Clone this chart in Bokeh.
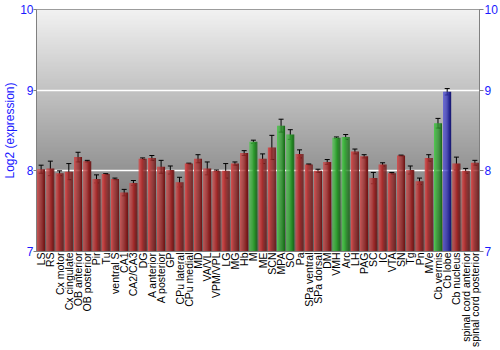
import numpy as np
from bokeh.plotting import figure
from bokeh.models import (ColumnDataSource, LinearAxis, FixedTicker, Whisker,
                          TeeHead, Range1d)
from bokeh.transform import dodge
from bokeh.embed import file_html
from bokeh.resources import INLINE

regions = ["LS", "RS", "Cx motor", "Cx cingulate", "OB anterior", "OB posterior",
           "Pir", "Tu", "ventral S", "CA1", "CA2/CA3", "DG", "A anterior",
           "A posterior", "GP", "CPu lateral", "CPu medial", "MD", "VA/VL",
           "VPM/VPL", "LG", "MG", "Hb", "M", "ME", "SCN", "MPA", "SO", "Pa",
           "SPa ventral", "SPa dorsal", "DM", "VMH", "Arc", "LH", "PAG", "SC",
           "IC", "VTA", "SN", "Tg", "Pn", "MVe", "Cb vermis", "Cb lobe",
           "Cb nucleus", "spinal cord anterior", "spinal cord posterior"]
expression = [8.02, 8.03, 7.97, 7.99, 8.17, 8.12, 7.90, 7.96, 7.90, 7.73, 7.85,
              8.15, 8.16, 8.05, 8.01, 7.86, 8.09, 8.15, 8.03, 8.00, 8.00, 8.09,
              8.22, 8.36, 8.15, 8.29, 8.56, 8.45, 8.21, 8.08, 8.00, 8.11, 8.41,
              8.42, 8.24, 8.18, 7.91, 8.08, 7.97, 8.19, 8.01, 7.87, 8.16, 8.59,
              8.98, 8.09, 8.00, 8.10]
error = [0.05, 0.09, 0.03, 0.10, 0.06, 0.01, 0.05, 0.005, 0.01, 0.04, 0.03,
         0.01, 0.03, 0.08, 0.05, 0.06, 0.005, 0.05, 0.08, 0.01, 0.09, 0.02,
         0.03, 0.02, 0.06, 0.15, 0.08, 0.06, 0.05, 0.005, 0.02, 0.03, 0.01,
         0.03, 0.03, 0.02, 0.07, 0.02, 0.01, 0.005, 0.05, 0.04, 0.04, 0.06,
         0.04, 0.08, 0.03, 0.03]
groups = ["red"] * 23 + ["green", "red", "red", "green", "green", "red", "red",
                         "red", "red", "green", "green", "red", "red", "red",
                         "red", "red", "red", "red", "red", "red", "green",
                         "blue", "red", "red", "red"]
y_ticks = [7, 8, 9, 10]

palette = {
    "red": ((205, 78, 78), (165, 45, 45), (112, 24, 24)),
    "green": ((80, 195, 80), (50, 160, 50), (25, 110, 25)),
    "blue": ((85, 85, 215), (55, 55, 180), (28, 28, 120)),
}

def lerp_color(stops, t):
    a, b, c = stops
    if t < 0.5:
        u = t / 0.5
        rgb = [a[i] + (b[i] - a[i]) * u for i in range(3)]
    else:
        u = (t - 0.5) / 0.5
        rgb = [b[i] + (c[i] - b[i]) * u for i in range(3)]
    return "#%02x%02x%02x" % tuple(int(round(v)) for v in rgb)

n = len(regions)
xs = list(range(1, n + 1))
nstrips = 7
bar_w = 0.86
strip_w = bar_w / nstrips
data = dict(x=xs, top=expression,
            upper=[v + e for v, e in zip(expression, error)],
            lower=[v - e for v, e in zip(expression, error)])
for k in range(nstrips):
    t = k / (nstrips - 1)
    data["c%d" % k] = [lerp_color(palette[g], t) for g in groups]
src = ColumnDataSource(data)

p = figure(width=500, height=350, output_backend="svg", toolbar_location=None,
           x_range=Range1d(0.5, n + 0.5), y_range=Range1d(7, 10),
           min_border_left=0, min_border_right=21, min_border_top=9,
           min_border_bottom=0, background_fill_color="white")
p.outline_line_color = "#808080"
p.outline_line_width = 1

# background gradient of the plot area
H = 200
vals = np.linspace(0, 1, H)  # bottom -> top
grey = (100 + 142 * vals).astype(np.uint32)
img = np.empty((H, 1), dtype=np.uint32)
view = img.view(dtype=np.uint8).reshape((H, 1, 4))
view[:, :, 0] = grey[:, None]
view[:, :, 1] = grey[:, None]
view[:, :, 2] = grey[:, None]
view[:, :, 3] = 255
p.image_rgba(image=[img], x=0.5, y=7, dw=n, dh=3, level="image")

p.ygrid.ticker = FixedTicker(ticks=y_ticks)
p.ygrid.grid_line_color = "white"
p.ygrid.grid_line_width = 1.5
p.ygrid.level = "image"
p.xgrid.visible = False

for k in range(nstrips):
    off = -bar_w / 2 + strip_w * (k + 0.5)
    p.vbar(x=dodge("x", off), top="top", bottom=7, width=strip_w * 1.05,
           fill_color="c%d" % k, line_color=None, source=src)

p.add_layout(Whisker(source=src, base="x", upper="upper", lower="lower",
                     line_color="black", line_width=1,
                     upper_head=TeeHead(size=5, line_color="black", line_width=1),
                     lower_head=TeeHead(size=5, line_color="black", line_width=1)))

blue = "#1a1aff"
yax = p.yaxis[0]
yax.ticker = FixedTicker(ticks=y_ticks)
yax.axis_label = "Log2 (expression)"
yax.axis_label_text_color = blue
yax.axis_label_text_font = "Liberation Sans"
yax.axis_label_text_font_size = "12px"
yax.axis_label_text_font_style = "normal"
yax.axis_label_standoff = 0
yax.major_label_text_color = blue
yax.major_label_text_font = "Liberation Sans"
yax.major_label_text_font_size = "12px"
yax.major_label_standoff = 0
yax.major_tick_in = 0
yax.major_tick_out = 3
yax.minor_tick_line_color = None
yax.axis_line_color = "#808080"
yax.major_tick_line_color = "#808080"

rax = LinearAxis(ticker=FixedTicker(ticks=y_ticks))
rax.major_label_text_color = blue
rax.major_label_text_font = "Liberation Sans"
rax.major_label_text_font_size = "12px"
rax.major_label_standoff = 1
rax.major_tick_in = 0
rax.major_tick_out = 4
rax.minor_tick_line_color = None
rax.axis_line_color = "#808080"
rax.major_tick_line_color = "#808080"
p.add_layout(rax, "right")

xax = p.xaxis[0]
xax.ticker = FixedTicker(ticks=xs)
xax.major_label_overrides = {i: r for i, r in zip(xs, regions)}
xax.major_label_orientation = np.pi / 2
xax.major_label_text_font = "Liberation Sans"
xax.major_label_text_font_size = "10.5px"
xax.major_label_text_color = "black"
xax.major_label_standoff = 1
xax.major_tick_in = 0
xax.major_tick_out = 0
xax.major_tick_line_color = None
xax.minor_tick_line_color = None
xax.axis_line_color = "#808080"

open("out.html", "w").write(file_html(p, INLINE))
